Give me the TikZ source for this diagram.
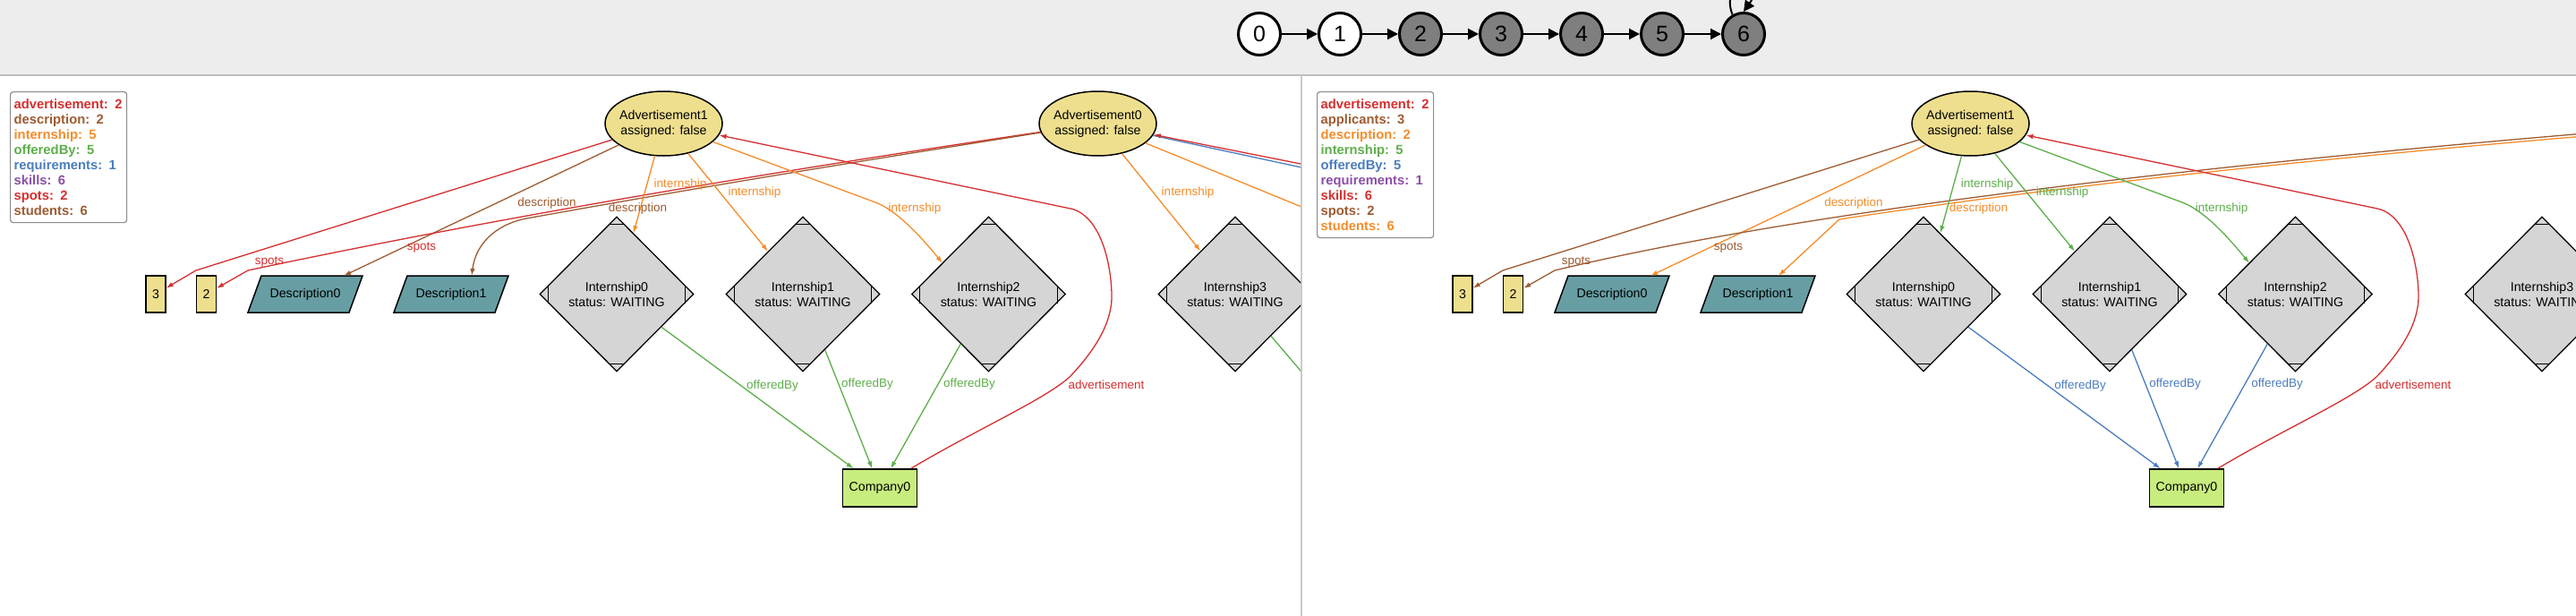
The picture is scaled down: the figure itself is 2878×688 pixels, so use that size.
\documentclass[tikz,border=0pt]{standalone}
\usepackage{fontspec}
\setmainfont{Liberation Sans}
\usetikzlibrary{shapes.geometric,arrows.meta,calc}
\definecolor{cRed}{HTML}{D62F2F}
\definecolor{cBrown}{HTML}{9E5B31}
\definecolor{cOrange}{HTML}{F58C2A}
\definecolor{cGreen}{HTML}{5DAE4B}
\definecolor{cBlue}{HTML}{4A7DBE}
\definecolor{cPurple}{HTML}{8B4FA6}
\definecolor{khakiF}{HTML}{EEDF8E}
\definecolor{tealF}{HTML}{679EA4}
\definecolor{grayF}{HTML}{D5D5D5}
\definecolor{compF}{HTML}{C8EC7E}
\definecolor{topBg}{HTML}{EDEDED}
\definecolor{sepC}{HTML}{BDBDBD}
\definecolor{stateF}{HTML}{7F7F7F}
\definecolor{legB}{HTML}{8C8C8C}
\newcommand{\nfont}{\fontsize{14.2}{17}\selectfont}
\newcommand{\lblfont}{\fontsize{13.5}{16}\selectfont}
\newcommand{\legfont}{\bfseries\fontsize{14.8}{17}\selectfont}
\newcommand{\stfont}{\fontsize{25}{28}\selectfont}
\newcommand{\dcaps}[1]{%
  \draw[line width=1.2pt] ($(#1.north)+(-9,9)$) -- ($(#1.north)+(9,9)$)
    ($(#1.south)+(-9,-9)$) -- ($(#1.south)+(9,-9)$)
    ($(#1.west)+(10,-10)$) -- ($(#1.west)+(10,10)$)
    ($(#1.east)+(-10,-10)$) -- ($(#1.east)+(-10,10)$);}
\begin{document}
\begin{tikzpicture}[x=1pt,y=-1pt,
  e/.style={line width=1.3pt,-{Latex[length=8pt,width=5.5pt]}},
  en/.style={line width=1.3pt},
  adv/.style={ellipse,draw,line width=1.5pt,fill=khakiF,minimum width=131pt,minimum height=72pt,inner xsep=-10pt,inner ysep=-6pt,align=center,font=\nfont},
  valbox/.style={rectangle,draw,line width=1.2pt,fill=khakiF,minimum width=22pt,minimum height=41pt,inner sep=0pt,font=\nfont},
  desctext/.style={rectangle,minimum width=113pt,minimum height=41pt,inner sep=0pt,outer sep=0pt,font=\nfont},
  descshape/.style={draw,line width=1.5pt,fill=tealF},
  intern/.style={diamond,draw,line width=1.3pt,fill=grayF,minimum width=172pt,minimum height=173pt,inner sep=0pt,align=center,font=\nfont},
  comp/.style={rectangle,draw,line width=1.4pt,fill=compF,minimum width=83pt,minimum height=42pt,inner sep=0pt,font=\nfont},
  lbl/.style={inner sep=0pt,font=\lblfont,text height=10pt,text depth=3pt},
  legend/.style={rectangle,rounded corners=3pt,draw=legB,line width=1.2pt,fill=white,align=left,font=\legfont,inner xsep=4pt,inner ysep=6pt,text width=122pt,anchor=north west},
  stW/.style={circle,draw,line width=3pt,fill=white,minimum size=47pt,inner sep=0pt,font=\stfont},
  stG/.style={stW,fill=stateF},
  sarr/.style={line width=2pt,-{Triangle[length=12pt,width=12pt]}}
]
\useasboundingbox (0,0) rectangle (2878,688);
\fill[white] (0,0) rectangle (2878,688);
\fill[topBg] (0,0) rectangle (2878,84);
\draw[sepC,line width=1.5pt] (0,84) -- (2878,84);
\draw[sepC!80!white,line width=1.5pt] (1454,84) -- (1454,688);

% ---------- state chain ----------
\begin{scope}
\clip (0,0) rectangle (2878,83);
\node[stW] (s0) at (1407,38) {0};
\node[stW] (s1) at (1497,38) {1};
\node[stG] (s2) at (1587,38) {2};
\node[stG] (s3) at (1677,38) {3};
\node[stG] (s4) at (1767,38) {4};
\node[stG] (s5) at (1857,38) {5};
\node[stG] (s6) at (1948,38) {6};
\draw[sarr] (s0) -- (s1);
\draw[sarr] (s1) -- (s2);
\draw[sarr] (s2) -- (s3);
\draw[sarr] (s3) -- (s4);
\draw[sarr] (s4) -- (s5);
\draw[sarr] (s5) -- (s6);
\draw[sarr] (s6.120) .. controls (1920,-25) and (1975,-25) .. (s6.north);
\end{scope}

% ---------- left panel ----------
\begin{scope}
\clip (0,85) rectangle (1453.2,688);
\node[legend,minimum height=146pt] (legL) at (11,102) {\textcolor{cRed}{advertisement: 2}\\\textcolor{cBrown}{description: 2}\\\textcolor{cOrange}{internship: 5}\\\textcolor{cGreen}{offeredBy: 5}\\\textcolor{cBlue}{requirements: 1}\\\textcolor{cPurple}{skills: 6}\\\textcolor{cRed}{spots: 2}\\\textcolor{cBrown}{students: 6}};

\node[adv] (a1L) at (741.5,138) {Advertisement1\\assigned: false};
\node[adv] (a0L) at (1226.5,138) {Advertisement0\\assigned: false};
\node[valbox] (v3L) at (174,328.5) {3};
\node[valbox] (v2L) at (230.5,328.5) {2};
\draw[descshape] (277,349) -- (390,349) -- (405,308) -- (292,308) -- cycle;
\node[desctext] (d0L) at (341,328.5) {Description0};
\draw[descshape] (440,349) -- (553,349) -- (568,308) -- (455,308) -- cycle;
\node[desctext] (d1L) at (504,328.5) {Description1};
\node[intern] (i0L) at (689,328.5) {Internship0\\status: WAITING};
\node[intern] (i1L) at (897,328.5) {Internship1\\status: WAITING};
\node[intern] (i2L) at (1104.5,328.5) {Internship2\\status: WAITING};
\node[intern] (i3L) at (1380,328.5) {Internship3\\status: WAITING};
\dcaps{i0L}\dcaps{i1L}\dcaps{i2L}\dcaps{i3L}
\node[comp] (c0L) at (983,545) {Company0};

\coordinate (k1L) at (219,302);
\coordinate (k2L) at (277,302);
\coordinate (m1L) at (592.7,243.2);
\coordinate (k3L) at (978,226);
\coordinate (t3L) at (1053,293.8);
\coordinate (p1L) at (1196,420);
\coordinate (p2L) at (1242,328);
\coordinate (p3L) at (1196,233);
\coordinate (rbL) at (1700,240);
\coordinate (rrL) at (1700,232);
\coordinate (roL) at (1700,331.5);
\coordinate (rgL) at (1600,586);

\draw[e,cRed] (a1L) -- (k1L) -- (v3L);
\draw[e,cBrown] (a1L) -- ([xshift=43]d0L.north);
\draw[e,cRed] (a0L) .. controls (813.7,199) and (519,250.7) .. (k2L) -- (v2L);
\draw[e,cBrown] (a0L) .. controls (952.6,181.2) and (763.2,212.3) .. (m1L) .. controls (560,248) and (532,268) .. ([xshift=23]d1L.north);
\draw[e,cOrange] (a1L) -- (i0L);
\draw[e,cOrange] (a1L) -- (i1L);
\draw[e,cOrange] (a1L) -- (k3L) .. controls (1005,236) and (1035,272) .. (t3L);
\draw[e,cOrange] (a0L) -- (i3L);
\draw[e,cGreen] (i0L) -- (c0L);
\draw[e,cGreen] (i1L) -- (c0L);
\draw[e,cGreen] (i2L) -- (c0L);
\draw[e,cRed] ([xshift=-7.5]c0L.north east) .. controls (1090,480) and (1170,445) .. (p1L) .. controls (1232,382) and (1243,352) .. (p2L) .. controls (1241,290) and (1228,240) .. (p3L) -- (a1L);
\draw[en,cBlue] (a0L) -- (rbL);
\draw[e,cRed] (rrL) -- (a0L);
\draw[en,cOrange] (a0L) -- (roL);
\draw[en,cGreen] (i3L) -- (rgL);

\node[lbl,text=cRed] (lsp1L) at (301,292) {spots};
\node[lbl,text=cRed] (lsp2L) at (471,276) {spots};
\node[lbl,text=cBrown] (lde1L) at (611,227) {description};
\node[lbl,text=cBrown] (lde2L) at (712.5,233) {description};
\node[lbl,text=cOrange] (lin1L) at (760,206) {internship};
\node[lbl,text=cOrange] (lin2L) at (843,215) {internship};
\node[lbl,text=cOrange] (lin3L) at (1022,233) {internship};
\node[lbl,text=cOrange] (lin4L) at (1327,215) {internship};
\node[lbl,text=cGreen] (lof1L) at (863,431) {offeredBy};
\node[lbl,text=cGreen] (lof2L) at (969,429) {offeredBy};
\node[lbl,text=cGreen] (lof3L) at (1083,429) {offeredBy};
\node[lbl,text=cRed] (ladL) at (1236,431) {advertisement};
\end{scope}

% ---------- right panel ----------
\begin{scope}[shift={(1460,0)}]
\clip (-5,85) rectangle (1418,688);
\node[legend,minimum height=163pt] (legR) at (11,102) {\textcolor{cRed}{advertisement: 2}\\\textcolor{cBrown}{applicants: 3}\\\textcolor{cOrange}{description: 2}\\\textcolor{cGreen}{internship: 5}\\\textcolor{cBlue}{offeredBy: 5}\\\textcolor{cPurple}{requirements: 1}\\\textcolor{cRed}{skills: 6}\\\textcolor{cBrown}{spots: 2}\\\textcolor{cOrange}{students: 6}};

\node[adv] (a1R) at (741.5,138) {Advertisement1\\assigned: false};
\node[valbox] (v3R) at (174,328.5) {3};
\node[valbox] (v2R) at (230.5,328.5) {2};
\draw[descshape] (277,349) -- (390,349) -- (405,308) -- (292,308) -- cycle;
\node[desctext] (d0R) at (341,328.5) {Description0};
\draw[descshape] (440,349) -- (553,349) -- (568,308) -- (455,308) -- cycle;
\node[desctext] (d1R) at (504,328.5) {Description1};
\node[intern] (i0R) at (689,328.5) {Internship0\\status: WAITING};
\node[intern] (i1R) at (897,328.5) {Internship1\\status: WAITING};
\node[intern] (i2R) at (1104.5,328.5) {Internship2\\status: WAITING};
\node[intern] (i3R) at (1380,328.5) {Internship3\\status: WAITING};
\dcaps{i0R}\dcaps{i1R}\dcaps{i2R}\dcaps{i3R}
\node[comp] (c0R) at (983,545) {Company0};

\coordinate (k1R) at (219,302);
\coordinate (k2R) at (277,302);
\coordinate (m1R) at (595,245);
\coordinate (k3R) at (978,226);
\coordinate (t3R) at (1053,293.8);
\coordinate (p1R) at (1196,420);
\coordinate (p2R) at (1242,328);
\coordinate (p3R) at (1196,233);
\coordinate (sbR) at (1440,148);
\coordinate (soR) at (1440,151);

\draw[e,cBrown] (a1R) -- (k1R) -- (v3R);
\draw[e,cOrange] (a1R) -- ([xshift=43]d0R.north);
\draw[e,cBrown] (sbR) .. controls (906.7,192.7) and (519,244) .. (k2R) -- (v2R);
\draw[e,cOrange] (soR) .. controls (1098.7,179.6) and (817,210.9) .. (m1R) -- ([xshift=23]d1R.north);
\draw[e,cGreen] (a1R) -- (i0R);
\draw[e,cGreen] (a1R) -- (i1R);
\draw[e,cGreen] (a1R) -- (k3R) .. controls (1005,236) and (1035,272) .. (t3R);
\draw[e,cBlue] (i0R) -- (c0R);
\draw[e,cBlue] (i1R) -- (c0R);
\draw[e,cBlue] (i2R) -- (c0R);
\draw[e,cRed] ([xshift=-7.5]c0R.north east) .. controls (1090,480) and (1170,445) .. (p1R) .. controls (1232,382) and (1243,352) .. (p2R) .. controls (1241,290) and (1228,240) .. (p3R) -- (a1R);

\node[lbl,text=cBrown] (lsp1R) at (301,292) {spots};
\node[lbl,text=cBrown] (lsp2R) at (471,276) {spots};
\node[lbl,text=cOrange] (lde1R) at (611,227) {description};
\node[lbl,text=cOrange] (lde2R) at (750.5,233) {description};
\node[lbl,text=cGreen] (lin1R) at (760,206) {internship};
\node[lbl,text=cGreen] (lin2R) at (844,215) {internship};
\node[lbl,text=cGreen] (lin3R) at (1022,233) {internship};
\node[lbl,text=cBlue] (lof1R) at (864,431) {offeredBy};
\node[lbl,text=cBlue] (lof2R) at (970,429) {offeredBy};
\node[lbl,text=cBlue] (lof3R) at (1084,429) {offeredBy};
\node[lbl,text=cRed] (ladR) at (1236,431) {advertisement};
\end{scope}
\end{tikzpicture}
\end{document}
